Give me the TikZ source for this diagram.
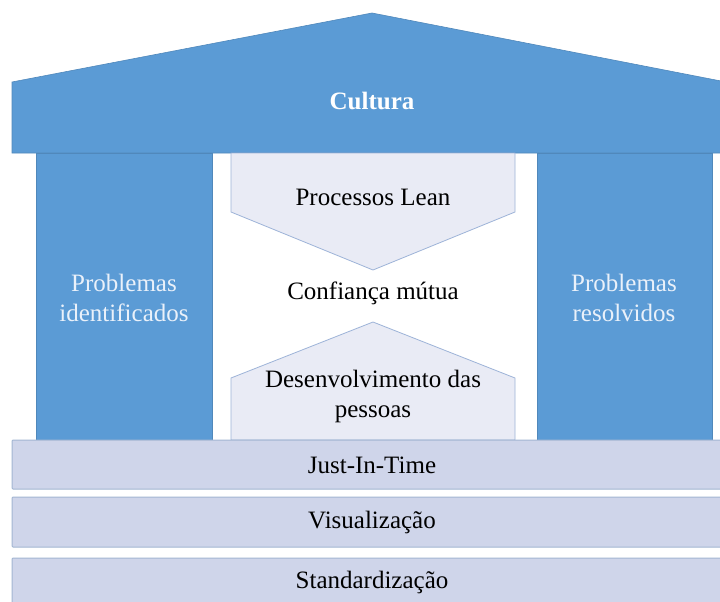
\documentclass[tikz,border=0pt]{standalone}
\usepackage{fontspec}
\setmainfont{Liberation Serif}

\definecolor{roofblue}{HTML}{5B9BD5}
\definecolor{paleblue}{HTML}{E9EBF5}
\definecolor{paleline}{HTML}{9DB3D8}
\definecolor{bandfill}{HTML}{CFD5EA}
\definecolor{bandline}{HTML}{A3B6D2}
\definecolor{pillartext}{HTML}{EAF1FA}

\begin{document}
\begin{tikzpicture}[x=1pt,y=-1pt,
  roof/.style={fill=roofblue, draw=roofblue!88!black, line width=0.6pt},
  pillar/.style={fill=roofblue, draw=roofblue!88!black, line width=0.6pt},
  arrowbox/.style={fill=paleblue, draw=paleline, line width=0.8pt},
  band/.style={fill=bandfill, draw=bandline, line width=1pt, rounded corners=1pt},
  txt/.style={font=\fontsize{25}{30}\selectfont, align=center, inner sep=0pt}]

\clip (0,0) rectangle (720,602);
\fill[white] (0,0) rectangle (720,602);

% roof
\draw[roof] (12,153) -- (12,82) -- (372,13) -- (726,82) -- (726,153) -- cycle;
\node[txt, text=white, font=\fontsize{25}{30}\selectfont\bfseries] (cultura) at (372,101) {Cultura};

% pillars
\draw[pillar] (36,153) rectangle (212,440);
\draw[pillar] (537,153) rectangle (712,440);
\node[txt, text=pillartext] (identificados) at (124,298) {Problemas\\identificados};
\node[txt, text=pillartext] (resolvidos) at (624,298) {Problemas\\resolvidos};

% middle
\draw[arrowbox] (231,153) -- (515,153) -- (515,212) -- (373,270) -- (231,212) -- cycle;
\node[txt] (lean) at (373,197) {Processos Lean};
\node[txt] (confianca) at (373,293) {Confiança mútua};
\draw[arrowbox] (231,440) -- (231,378) -- (373,322) -- (515,378) -- (515,440) -- cycle;
\node[txt] (pessoas) at (373,396) {Desenvolvimento das\\pessoas};

% foundation
\draw[band] (12,440) rectangle (730,489);
\node[txt] (jit) at (372,465) {Just-In-Time};
\draw[band] (12,497) rectangle (730,547);
\node[txt] (visual) at (372,522) {Visualização};
\draw[band] (12,558) rectangle (730,612);
\node[txt] (standard) at (372,582) {Standardização};

\end{tikzpicture}
\end{document}
